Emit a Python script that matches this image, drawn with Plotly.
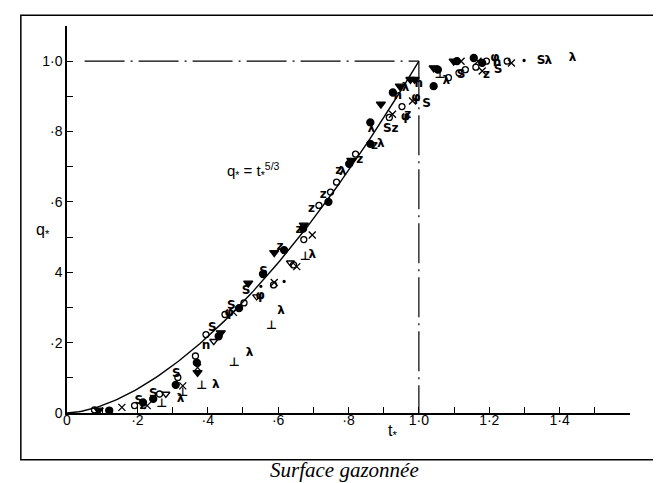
import numpy as np
import plotly.graph_objects as go

# model curve q* = t*^(5/3), drawn up to t* = 1
exponent = 5 / 3
t_curve = np.linspace(0, 1, 120)
q_curve = t_curve ** exponent

tri_t = [0.09, 0.371, 0.437, 0.515, 0.589, 0.673, 0.808, 0.892, 0.946, 0.976, 0.988, 1.042, 1.099]
tri_q = [0.008, 0.115, 0.228, 0.369, 0.456, 0.534, 0.718, 0.878, 0.929, 0.948, 0.948, 0.981, 1.0]

dot_t = [0.12, 0.216, 0.245, 0.309, 0.369, 0.431, 0.489, 0.557, 0.617, 0.671, 0.743, 0.802,
         0.862, 0.862, 0.926, 1.054, 1.042, 1.108, 1.156, 1.18]
dot_q = [0.007, 0.03, 0.04, 0.08, 0.143, 0.218, 0.298, 0.395, 0.463, 0.524, 0.6, 0.708,
         0.765, 0.826, 0.911, 0.976, 0.929, 1.0, 1.009, 0.995]

circ_t = [0.078, 0.192, 0.263, 0.315, 0.365, 0.395, 0.449, 0.503, 0.587, 0.644, 0.673, 0.716,
          0.749, 0.766, 0.82, 0.916, 0.952, 1.084, 1.114, 1.132, 1.162, 1.192, 1.251]
circ_q = [0.009, 0.021, 0.054, 0.101, 0.162, 0.223, 0.28, 0.313, 0.364, 0.421, 0.493, 0.59,
          0.628, 0.656, 0.736, 0.84, 0.871, 0.953, 0.967, 0.976, 0.983, 1.0, 1.0]

cross_t = [0.156, 0.228, 0.329, 0.371, 0.473, 0.589, 0.653, 0.697, 0.925, 0.982, 1.12, 1.168, 1.18, 1.263]
cross_q = [0.016, 0.021, 0.077, 0.129, 0.286, 0.371, 0.416, 0.506, 0.849, 0.887, 1.0, 1.0, 0.972, 0.995]

s_t = [0.204, 0.245, 0.311, 0.413, 0.467, 0.509, 0.559, 0.91, 1.022, 1.12, 1.225, 1.347]
s_q = [0.035, 0.054, 0.11, 0.242, 0.303, 0.346, 0.402, 0.807, 0.878, 0.962, 0.976, 1.0]

z_t = [0.216, 0.605, 0.659, 0.695, 0.728, 0.772, 0.832, 0.874, 0.932, 0.968, 1.192]
z_q = [0.021, 0.473, 0.52, 0.581, 0.619, 0.689, 0.718, 0.76, 0.807, 0.847, 0.962]

lam_t = [0.323, 0.423, 0.519, 0.608, 0.697, 0.784, 0.892, 0.865, 0.962, 1.078, 1.368, 1.437]
lam_q = [0.04, 0.079, 0.171, 0.291, 0.449, 0.685, 0.765, 0.807, 0.925, 0.944, 1.0, 1.009]

perp_t = [0.269, 0.329, 0.383, 0.475, 0.581, 0.677, 1.06]
perp_q = [0.025, 0.058, 0.077, 0.143, 0.247, 0.444, 0.962]

n_t = [0.395, 0.94, 1.0, 1.222]
n_q = [0.19, 0.901, 0.934, 0.995]

otri_t = [0.281, 0.417, 0.539, 0.635]
otri_q = [0.054, 0.204, 0.331, 0.427]

phi_t = [0.461, 0.549, 0.962, 0.992, 1.216]
phi_q = [0.284, 0.333, 0.84, 0.896, 1.009]

small_t = [0.617, 0.551, 1.299]
small_q = [0.374, 0.36, 1.002]

xticks = [round(0.1 * i, 1) for i in range(17)]
xlabels = ["0", "", "·2", "", "·4", "", "·6", "", "·8", "", "1·0", "", "1·2", "", "1·4", "", ""]
yticks = [round(0.1 * i, 1) for i in range(11)]
ylabels = ["0", "", "·2", "", "4", "", "·6", "", "·8", "", "1·0"]

fig = go.Figure()

fig.add_trace(go.Scatter(x=t_curve, y=q_curve, mode="lines",
                         line=dict(color="black", width=1.4)))

# limits q* = 1 and t* = 1
fig.add_trace(go.Scatter(x=[0.05, 1.0], y=[1.0, 1.0], mode="lines",
                         line=dict(color="black", width=1.2, dash="40px,6px,2px,6px")))
fig.add_trace(go.Scatter(x=[1.0, 1.0], y=[1.0, 0.0], mode="lines",
                         line=dict(color="black", width=1.2, dash="40px,6px,2px,6px")))

def marks(tt, qq, symbol, size=7):
    fig.add_trace(go.Scatter(x=tt, y=qq, mode="markers",
                             marker=dict(symbol=symbol, size=size, color="black",
                                         line=dict(color="black", width=1.3))))

def letters(tt, qq, char, size=12):
    fig.add_trace(go.Scatter(x=tt, y=qq, mode="text", text=[char] * len(tt),
                             textfont=dict(family="DejaVu Sans", size=size,
                                           color="black", weight="bold")))

marks(tri_t, tri_q, "triangle-down", 8)
marks(dot_t, dot_q, "circle", 7)
marks(circ_t, circ_q, "circle-open", 6)
marks(cross_t, cross_q, "x-thin-open", 7)
marks(otri_t, otri_q, "triangle-down-open", 7)
marks(small_t, small_q, "circle", 2)
letters(s_t, s_q, "S")
letters(z_t, z_q, "z")
letters(lam_t, lam_q, "λ")
letters(perp_t, perp_q, "⊥")
letters(n_t, n_q, "n")
letters(phi_t, phi_q, "φ")

fig.add_annotation(x=0.53, y=0.69, xref="x", yref="y", showarrow=False,
                   text="q<sub>*</sub> = t<sub>*</sub><sup>5/3</sup>",
                   font=dict(family="Liberation Sans", size=15, color="black"))

# outer frame of the figure
fig.add_shape(type="rect", xref="paper", yref="paper",
              x0=-0.082, x1=1.06, y0=-0.121, y1=1.028,
              line=dict(color="black", width=1.5))

fig.add_annotation(x=0.493, y=-0.148, xref="paper", yref="paper", showarrow=False,
                   xanchor="center", yanchor="middle",
                   text="<i>Surface gazonnée</i>",
                   font=dict(family="Liberation Serif", size=21, color="black"))

# axis titles placed where the scan has them
fig.add_annotation(x=0.926, y=-0.078, xref="x", yref="paper", showarrow=False,
                   text="t<sub>*</sub>",
                   font=dict(family="Liberation Sans", size=16, color="black"))
fig.add_annotation(x=-0.058, y=0.52, xref="paper", yref="y", showarrow=False,
                   text="q<sub>*</sub>",
                   font=dict(family="Liberation Sans", size=16, color="black"))

fig.update_xaxes(range=[0, 1.6], tickvals=xticks, ticktext=xlabels,
                 ticks="inside", ticklen=6, tickwidth=1.3, tickcolor="black",
                 ticklabelstandoff=-7, automargin=False,
                 showline=True, linecolor="black", linewidth=1.5,
                 showgrid=False, zeroline=False,
                 tickfont=dict(family="Liberation Sans", size=14, color="black"))
fig.update_yaxes(range=[0, 1.1], tickvals=yticks, ticktext=ylabels,
                 ticks="inside", ticklen=6, tickwidth=1.3, tickcolor="black",
                 automargin=False,
                 showline=True, linecolor="black", linewidth=1.5,
                 showgrid=False, zeroline=False,
                 tickfont=dict(family="Liberation Sans", size=14, color="black"))

fig.update_layout(width=661, height=483, showlegend=False, template="none",
                  plot_bgcolor="white", paper_bgcolor="white",
                  margin=dict(l=59, r=39, t=18, b=78))

fig.write_html("out.html")
